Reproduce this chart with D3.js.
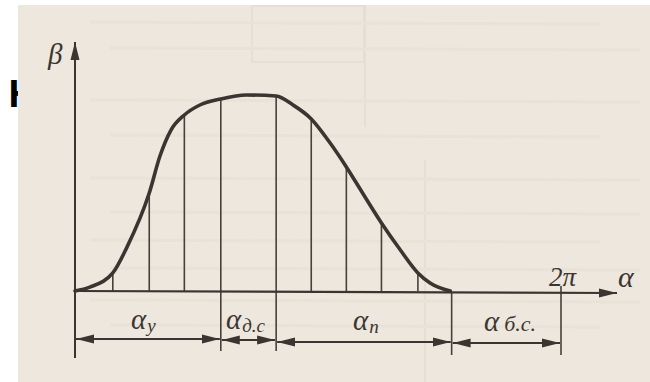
<!DOCTYPE html>
<html>
<head>
<meta charset="utf-8">
<script src="https://cdn.jsdelivr.net/npm/d3@7"></script>
<style>
  html, body { margin: 0; padding: 0; background: #ffffff; }
  svg { display: block; }
  .lbl { font-family: "Liberation Serif", "DejaVu Serif", serif; font-style: italic; fill: #3b3631; }
</style>
</head>
<body>
<svg id="chart" width="650" height="382"></svg>
<script>
// Cam lift diagram: β(α) over one revolution, phases of rise, dwell, return and rest.

// Curve samples: angle α (degrees) and relative lift β
const alphaDeg = [0, 11, 28, 38.5, 55, 63, 71, 81, 92.5, 108, 127, 149, 161.5, 175, 189, 201, 213, 227, 241, 254, 263, 278];
const betaVal  = [0, 0.02, 0.092, 0.224, 0.5, 0.69, 0.82, 0.898, 0.949, 0.98, 1.0, 0.995, 0.949, 0.878, 0.755, 0.633, 0.5, 0.347, 0.209, 0.092, 0.041, 0];

// Ordinates dividing the rise and return phases
const ordinateDeg = [28, 55, 81, 108, 149, 175, 201, 227, 254];

// Phase boundaries (degrees) and their labels
const phaseStart = [0, 108, 149, 279];
const phaseEnd   = [108, 149, 279, 360];
const phaseMain  = ["α", "α", "α", "α"];
const phaseSub   = ["у", "д.с", "п", "б.с."];

// Tick label on the α axis
const tickDeg = [360];
const tickLabels = ["2π"];

const svg = d3.select("#chart");
const W = 650, H = 382;

const x = d3.scaleLinear().domain([0, 360]).range([75, 561]);
const y = d3.scaleLinear().domain([0, 1]).range([291, 95]);

const ink = "#3a3530";
const thin = "#47413b";

// cropped heading letter sitting behind the scanned page
svg.append("text").attr("x", 8.5).attr("y", 107)
  .attr("font-family", "Liberation Sans, Arial, sans-serif")
  .attr("font-weight", "bold").attr("font-size", 39).attr("fill", "#000")
  .text("Н");

// page
svg.append("rect").attr("x", 18).attr("y", 5).attr("width", W - 18).attr("height", H - 5)
  .attr("fill", "#ede7dd");

// faint show-through from the reverse side of the page
const ghost = svg.append("g").attr("stroke", "#e0d9ce").attr("fill", "none").attr("stroke-width", 1.5).attr("opacity", 0.7);
ghost.append("rect").attr("x", 252).attr("y", 6).attr("width", 112).attr("height", 56);
ghost.append("line").attr("x1", 365).attr("y1", 5).attr("x2", 365).attr("y2", 127);
ghost.append("line").attr("x1", 425).attr("y1", 160).attr("x2", 425).attr("y2", 382);
[22, 48, 100, 135, 178, 212, 240, 268, 300, 325].forEach((gy, i) => {
  ghost.append("line").attr("x1", i % 2 ? 110 : 90).attr("y1", gy)
    .attr("x2", i % 3 ? 640 : 600).attr("y2", gy + 2)
    .attr("stroke-width", 3).attr("stroke", "#e7e0d5");
});

// arrow markers
const defs = svg.append("defs");
defs.append("marker").attr("id", "axisHead").attr("viewBox", "0 -5 18 10")
  .attr("refX", 18).attr("refY", 0).attr("markerUnits", "userSpaceOnUse")
  .attr("markerWidth", 18).attr("markerHeight", 10).attr("orient", "auto")
  .append("path").attr("d", "M0,-4.5L18,0L0,4.5Z").attr("fill", ink);
defs.append("marker").attr("id", "dimHead").attr("viewBox", "0 -5 18 10")
  .attr("refX", 18).attr("refY", 0).attr("markerUnits", "userSpaceOnUse")
  .attr("markerWidth", 18).attr("markerHeight", 10).attr("orient", "auto-start-reverse")
  .append("path").attr("d", "M0,-4.5L18,0L0,4.5Z").attr("fill", ink);

// ordinates under the curve
const data = alphaDeg.map((a, i) => ({ a, b: betaVal[i] }));
const betaAt = a => data.find(d => d.a === a).b;
svg.append("g").selectAll("line").data(ordinateDeg).join("line")
  .attr("x1", d => x(d)).attr("x2", d => x(d))
  .attr("y1", y(0)).attr("y2", d => y(betaAt(d)))
  .attr("stroke", thin).attr("stroke-width", 1.6);

// extension lines for the phase boundaries
const ext = svg.append("g").attr("stroke", thin).attr("stroke-width", 1.6);
[108, 149].forEach(a => ext.append("line").attr("x1", x(a)).attr("x2", x(a)).attr("y1", y(0)).attr("y2", 351));
ext.append("line").attr("x1", x(279)).attr("x2", x(279)).attr("y1", y(0) + 1).attr("y2", 355);
tickDeg.forEach(a => ext.append("line").attr("x1", x(a)).attr("x2", x(a)).attr("y1", 286).attr("y2", 355));

// axes
svg.append("line").attr("x1", x(0)).attr("y1", 358).attr("x2", x(0)).attr("y2", 42)
  .attr("stroke", ink).attr("stroke-width", 2).attr("marker-end", "url(#axisHead)");
svg.append("line").attr("x1", x(0)).attr("y1", y(0)).attr("x2", 617).attr("y2", y(0) + 2)
  .attr("stroke", ink).attr("stroke-width", 2.2).attr("marker-end", "url(#axisHead)");

// lift curve
const line = d3.line().x(d => x(d.a)).y(d => y(d.b)).curve(d3.curveMonotoneX);
svg.append("path").datum(data).attr("d", line)
  .attr("fill", "none").attr("stroke", ink).attr("stroke-width", 3.6)
  .attr("stroke-linecap", "round");

// dimension lines with labels
const dimY = [339, 340, 342, 343];
const labelX = [131, 226, 353, 484];
const labelY = [329, 329, 330, 331];
phaseStart.forEach((s, i) => {
  svg.append("line").attr("x1", x(s) + 1).attr("x2", x(phaseEnd[i]) - 1)
    .attr("y1", dimY[i]).attr("y2", dimY[i])
    .attr("stroke", ink).attr("stroke-width", 1.8)
    .attr("marker-start", "url(#dimHead)").attr("marker-end", "url(#dimHead)");
  const t = svg.append("text").attr("class", "lbl").attr("x", labelX[i]).attr("y", labelY[i]).attr("font-size", 29);
  t.append("tspan").text(phaseMain[i]);
  t.append("tspan").attr("font-size", i === 3 ? 22 : 19).attr("dx", i === 3 ? 5 : 1).attr("dy", i === 3 ? 0 : 3).text(phaseSub[i]);
});

// axis labels
svg.append("text").attr("class", "lbl").attr("x", 549).attr("y", 286).attr("font-size", 27)
  .text(tickLabels[0]);
svg.append("text").attr("class", "lbl").attr("x", 618).attr("y", 287).attr("font-size", 30).text("α");
svg.append("text").attr("class", "lbl").attr("x", 48).attr("y", 64).attr("font-size", 29).text("β");
</script>
</body>
</html>
